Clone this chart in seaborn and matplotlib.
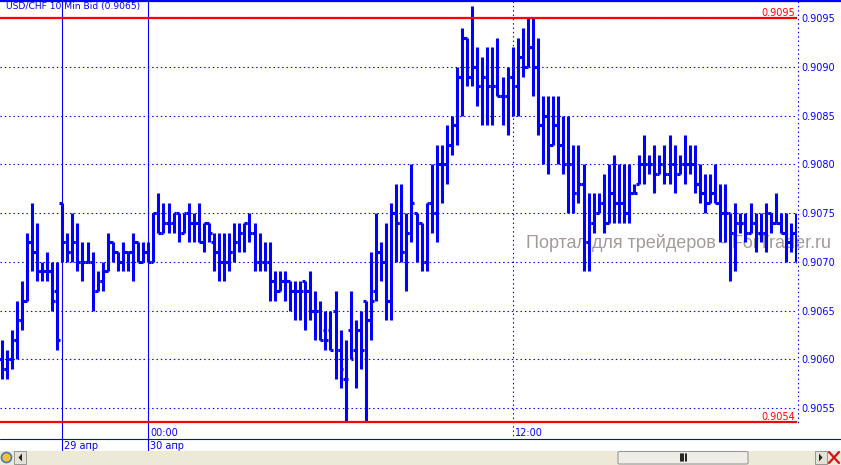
import numpy as np
import pandas as pd
import matplotlib
matplotlib.use('Agg')
import matplotlib.pyplot as plt
import matplotlib.transforms as mtransforms
import seaborn as sns
from matplotlib.lines import Line2D
from matplotlib.patches import Rectangle, FancyBboxPatch, Polygon, Ellipse

# ---- data: 10 min USD/CHF bars, pips above 0.9000 ----
base = 0.9000
high_pips = [62, 61, 63, 66, 68, 73, 76, 74, 70, 71, 70, 70, 76, 73, 75, 74, 72, 72, 71, 69,
             70, 73, 72, 71, 72, 71, 73, 72, 72, 72, 75, 77, 76, 76, 75, 75, 75, 76, 75, 76,
             74, 74, 73, 73, 73, 73, 74, 74, 74, 75, 74, 73, 72, 72, 69, 69, 69, 68, 68, 68,
             68, 69, 67, 66, 65, 65, 67, 63, 62, 67, 64, 65, 66, 71, 75, 72, 74, 76, 78, 78,
             75, 80, 75, 74, 76, 80, 82, 82, 84, 85, 90, 94, 93, 96.2, 92, 91, 92, 92, 93, 89,
             90, 92, 93, 94, 95, 95, 93, 87, 87, 87, 87, 85, 85, 82, 82, 80, 77, 77, 77, 79,
             80, 81, 80, 80, 80, 78, 81, 83, 81, 82, 81, 82, 83, 82, 81, 83, 82, 82, 80, 79,
             79, 80, 78, 78, 75, 76, 75, 75, 76, 75, 75, 76, 75, 77, 75, 75, 74, 75]
low_pips = [58, 58, 59, 60, 63, 66, 69, 68, 68, 68, 65, 61, 70, 70, 70, 69, 68, 70, 65, 67,
            67, 69, 70, 69, 69, 69, 68, 70, 70, 70, 70, 73, 73, 73, 73, 72, 73, 72, 72, 72,
            71, 72, 69, 68, 68, 69, 70, 71, 71, 72, 69, 69, 69, 66, 66, 67, 66, 65, 64, 64,
            63, 64, 62, 62, 61, 61, 58, 57, 53.6, 60, 57, 59, 53.6, 62, 66, 68, 64, 64, 70, 70,
            67, 72, 70, 69, 69, 73, 72, 76, 78, 81, 82, 85, 88, 88, 86, 84, 84, 84, 87, 84,
            83, 85, 85, 89, 90, 87, 83, 80, 79, 82, 80, 79, 75, 75, 76, 69, 69, 73, 75, 73,
            74, 74, 74, 74, 74, 77, 78, 78, 79, 77, 79, 78, 78, 77, 79, 78, 79, 77, 76, 75,
            76, 76, 72, 72, 68, 69, 73, 72, 73, 71, 72, 71, 73, 74, 73, 70, 71, 70]
open_pips = [60, 59, 60, 62, 64, 66, 72, 71, 69, 69, 69, 67, 76, 72, 71, 72, 70, 70, 70, 67,
             68, 69, 72, 71, 70, 71, 71, 72, 70, 71, 70, 75, 73, 74, 74, 75, 73, 75, 74, 74,
             72, 74, 72, 71, 70, 70, 71, 72, 73, 74, 73, 70, 70, 70, 68, 67, 68, 68, 67, 67,
             68, 67, 65, 65, 63, 63, 65, 61, 58, 63, 61, 63, 66, 64, 67, 71, 70, 66, 75, 74,
             71, 73, 75, 74, 70, 76, 75, 80, 80, 82, 84, 89, 93, 89, 90, 88, 89, 88, 88, 87,
             87, 89, 88, 91, 90, 92, 90, 84, 85, 82, 84, 82, 80, 80, 77, 78, 72, 74, 75, 76,
             74, 77, 76, 76, 75, 77, 78, 80, 80, 80, 79, 80, 79, 80, 79, 80, 80, 80, 78, 77,
             76, 77, 76, 75, 75, 73, 74, 74, 73, 74, 73, 73, 75, 74, 74, 73, 72, 73]
close_pips = [59, 60, 62, 64, 66, 72, 71, 69, 69, 69, 66, 62, 72, 71, 72, 70, 70, 70, 67, 68,
              69, 72, 71, 70, 71, 71, 72, 70, 71, 70, 75, 73, 74, 74, 75, 73, 75, 74, 74, 72,
              74, 73, 71, 70, 70, 71, 72, 73, 74, 73, 70, 70, 70, 68, 67, 68, 68, 67, 67, 67,
              67, 65, 65, 62, 62, 61, 61, 59, 58, 60, 63, 61, 64, 66, 71, 70, 66, 75, 74, 71,
              73, 76, 74, 70, 76, 75, 80, 80, 82, 84, 89, 93, 89, 90, 88, 89, 88, 88, 87, 87,
              89, 88, 91, 90, 92, 90, 84, 85, 82, 84, 82, 80, 80, 77, 78, 72, 74, 75, 76, 74,
              77, 76, 76, 75, 77, 77, 80, 80, 80, 79, 80, 79, 80, 79, 80, 80, 80, 78, 77, 76,
              77, 76, 75, 75, 73, 74, 74, 73, 74, 73, 73, 75, 74, 74, 73, 72, 73, 70]

y_ticks = [0.9055, 0.9060, 0.9065, 0.9070, 0.9075, 0.9080, 0.9085, 0.9090, 0.9095]
level_prices = [0.9095, 0.90536]
level_labels = ['0.9095', '0.9054']
marker_bars = [12, 29, 101]
marker_times = ['', '00:00', '12:00']
marker_dates = ['29 апр', '30 апр', '']
marker_solid = [True, True, False]
title_text = 'USD/CHF 10 Min Bid (0.9065)'
watermark = 'Портал для трейдеров - ForTrader.ru'

df = pd.DataFrame({'high': high_pips, 'low': low_pips, 'open': open_pips, 'close': close_pips})
for col in ['high', 'low', 'open', 'close']:
    df[col] = base + df[col] / 10000
df['bar'] = np.arange(len(df))

BLUE = '#0000ff'
RED = '#ff0000'
DOTS = (0, (1.3, 2.6))
W, H = 841, 465

sns.set_theme(style='white')
plt.rcParams['font.family'] = ['DejaVu Sans']

fig = plt.figure(figsize=(W / 100, H / 100), dpi=100)
fig.patch.set_facecolor('white')


def fx(px):
    return px / W


def fy(py):
    return 1 - py / H


# plot area in pixels: x 0..797, y 1..439
ax = fig.add_axes([0, fy(439), fx(797), 438 / H])
ax.set_facecolor('white')
bar_px = 5.061
ax.set_xlim(-1.5 / bar_px, (797 - 1.5) / bar_px)
px_per_price = 97500
ax.set_ylim(0.9095 - 421 / px_per_price, 0.9095 + 17 / px_per_price)
for s in ax.spines.values():
    s.set_visible(False)

# grid
for v in y_ticks:
    ax.axhline(v, color=BLUE, lw=0.8, ls=DOTS, zorder=1)

# OHLC bars
lw = 2.2
ax.vlines(df['bar'], df['low'], df['high'], color=BLUE, lw=lw, zorder=3)
ax.hlines(df['open'], df['bar'] - 0.55, df['bar'], color=BLUE, lw=lw, zorder=3)
ax.hlines(df['close'], df['bar'], df['bar'] + 0.55, color=BLUE, lw=lw, zorder=3)

# level lines
for p, lab in zip(level_prices, level_labels):
    ax.axhline(p, color=RED, lw=1.6, zorder=4)
    ax.text(795 / 797, p, lab, transform=ax.get_yaxis_transform(), ha='right', va='bottom',
            color=RED, fontsize=7, zorder=5)

# right price scale
ax.yaxis.tick_right()
ax.set_yticks(y_ticks)
ax.set_yticklabels([f'{v:.4f}' for v in y_ticks])
ax.tick_params(axis='y', length=0, pad=3, labelcolor=BLUE, labelsize=7)
ax.set_xticks([])

# time markers
tr = mtransforms.blended_transform_factory(ax.transData, fig.transFigure)
for b, t, d, solid in zip(marker_bars, marker_times, marker_dates, marker_solid):
    if solid:
        ax.add_line(Line2D([b, b], [fy(1), fy(451)], transform=tr, color=BLUE, lw=0.8,
                           clip_on=False, zorder=2))
    else:
        ax.add_line(Line2D([b, b], [fy(1), fy(439)], transform=tr, color=BLUE, lw=0.8,
                           ls=DOTS, clip_on=False, zorder=2))
    if t:
        ax.text(b + 0.4, fy(432.5), t, transform=tr, ha='left', va='center', color=BLUE,
                fontsize=7, clip_on=False)
    if d:
        ax.text(b + 0.4, fy(445.5), d, transform=tr, ha='left', va='center', color=BLUE,
                fontsize=7, clip_on=False)

# watermark behind bars
ax.text(fx(679), fy(243), watermark, transform=fig.transFigure, ha='center', va='center',
        color='#a39a9a', fontsize=13, family='Liberation Sans', zorder=2, clip_on=False)

# title
fig.text(fx(6), fy(7), title_text, ha='left', va='center', color=BLUE, fontsize=6.6)

# frame lines
fig.add_artist(Line2D([0, 1], [fy(1), fy(1)], color=BLUE, lw=1.6))
fig.add_artist(Line2D([0, 1], [fy(439), fy(439)], color=BLUE, lw=0.8))
fig.add_artist(Line2D([fx(797.5), fx(797.5)], [fy(1), fy(423)], color=BLUE, lw=0.8, ls=DOTS))

# scrollbar strip
fig.add_artist(Rectangle((0, 0), 1, 14.5 / H, transform=fig.transFigure, fc='#ece9d8', ec='none'))
fig.add_artist(FancyBboxPatch((fx(618), fy(464)), fx(130), 12.5 / H,
                              boxstyle='round,pad=0,rounding_size=0.002',
                              transform=fig.transFigure, fc='#efeee6', ec='#9a9a9a', lw=0.8))
for gx in [680.5, 683, 685.5]:
    fig.add_artist(Line2D([fx(gx), fx(gx)], [fy(454), fy(461)], color='black', lw=1.2))
for bx in [14, 815]:
    fig.add_artist(Rectangle((fx(bx), fy(464)), fx(12), 13 / H, transform=fig.transFigure,
                             fc='#e4e2d8', ec='#8a8a8a', lw=0.6))
fig.add_artist(Polygon([[fx(22), fy(453.5)], [fx(22), fy(461.5)], [fx(18.5), fy(457.5)]],
                       closed=True, transform=fig.transFigure, fc='#222222', ec='none'))
fig.add_artist(Polygon([[fx(819), fy(453.5)], [fx(819), fy(461.5)], [fx(822.5), fy(457.5)]],
                       closed=True, transform=fig.transFigure, fc='#222222', ec='none'))
fig.add_artist(Ellipse((fx(6.5), fy(457.5)), fx(10), 10 / H, transform=fig.transFigure,
                       fc='#f0c040', ec='#4a7ab0', lw=1.2))
fig.add_artist(Line2D([fx(829), fx(839)], [fy(452), fy(463)], color='#dd1111', lw=1.6))
fig.add_artist(Line2D([fx(829), fx(839)], [fy(463), fy(452)], color='#dd1111', lw=1.6))

fig.savefig('out.png', dpi=100, facecolor='white')
